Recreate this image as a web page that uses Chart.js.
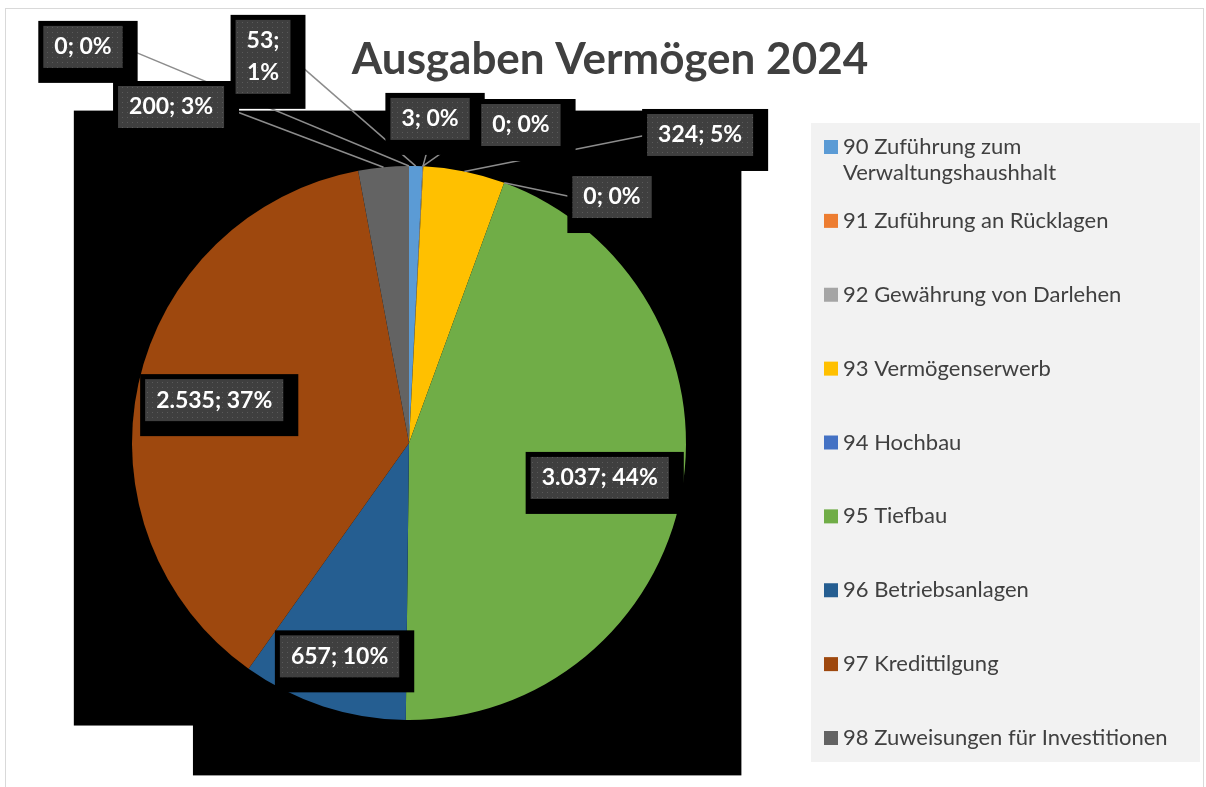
<!DOCTYPE html>
<html lang="de">
<head>
<meta charset="utf-8">
<title>Ausgaben Vermögen 2024</title>
<script src="https://cdn.jsdelivr.net/npm/chart.js@4.4.1/dist/chart.umd.min.js"></script>
<style>
  html, body { margin: 0; padding: 0; background: #fff; }
  #wrap { position: relative; width: 1206px; height: 787px; }
</style>
</head>
<body>
<div id="wrap"><canvas id="chart"></canvas></div>
<script>
// data
var categories = [
    "90 Zuführung zum Verwaltungshaushhalt",
    "91 Zuführung an Rücklagen",
    "92 Gewährung von Darlehen",
    "93 Vermögenserwerb",
    "94 Hochbau",
    "95 Tiefbau",
    "96 Betriebsanlagen",
    "97 Kredittilgung",
    "98 Zuweisungen für Investitionen",
    "99"
];
var values = [53, 0, 3, 324, 0, 3037, 657, 2535, 200, 0];
var percents = [1, 0, 0, 5, 0, 44, 10, 37, 3, 0];
var colors = ["#5B9BD5", "#ED7D31", "#A5A5A5", "#FFC000", "#4472C4", "#70AD47", "#255E91", "#9E480E", "#636363", "#997300"];
var legendCount = 9; // last entry is cut off in the original legend

// label placement: number = inside, fraction of radius along the mid angle
// pair = outside, box centre relative to pie centre in radius units
var labelPlace = [[-0.527, -1.394], [0.404, -1.148], [0.076, -1.170], [1.051, -1.112], [0.733, -0.888],
    0.70, 0.81, 0.72, [-0.859, -1.213], [-1.177, -1.430]];
var labelWrap = [true, false, false, false, false, false, false, false, false, false];

var labelFont = "bold 23px Lato";
var padX = 11, padY = 5, lineH = 32;

function fmt(n) {
    return String(n).replace(/\B(?=(\d{3})+(?!\d))/g, ".");
}

// dotted fill of the label boxes
function dotPattern(ctx) {
    var c = document.createElement("canvas");
    c.width = 5; c.height = 5;
    var p = c.getContext("2d");
    p.fillStyle = "#3f3f3f";
    p.fillRect(0, 0, 5, 5);
    p.fillStyle = "#5a5a5a";
    p.fillRect(2, 2, 1, 1);
    return ctx.createPattern(c, "repeat");
}

var excelLook = {
    id: "excelLook",
    beforeDatasetsDraw: function(chart) {
        var arc = chart.getDatasetMeta(0).data[0];
        var cx = arc.x, cy = arc.y, r = arc.outerRadius;
        var ctx = chart.ctx;
        ctx.save();
        // the black plot area of the original
        ctx.fillStyle = "#000";
        ctx.fillRect(cx - 1.21 * r, cy - 1.2 * r, 2.41 * r, 2.4 * r);
        ctx.fillStyle = "#fff";
        ctx.fillRect(cx - 1.22 * r, cy + 1.02 * r, 0.44 * r, 0.2 * r);
        ctx.restore();
    },
    afterDatasetsDraw: function(chart) {
        var ctx = chart.ctx;
        var meta = chart.getDatasetMeta(0);
        var boxes = [];
        ctx.save();
        ctx.font = labelFont;
        meta.data.forEach(function(arc, i) {
            var p = arc.getProps(["x", "y", "startAngle", "endAngle", "outerRadius"]);
            var mid = (p.startAngle + p.endAngle) / 2;
            var lines = labelWrap[i] ? [fmt(values[i]) + ";", percents[i] + "%"] : [fmt(values[i]) + "; " + percents[i] + "%"];
            var tw = Math.max.apply(null, lines.map(function(s) { return ctx.measureText(s).width; }));
            var w = tw + 2 * padX, h = lines.length * lineH + 2 * padY;
            var place = labelPlace[i];
            var cx, cy, outside = typeof place !== "number";
            if (!outside) {
                cx = p.x + Math.cos(mid) * place * p.outerRadius;
                cy = p.y + Math.sin(mid) * place * p.outerRadius;
            } else {
                cx = p.x + place[0] * p.outerRadius;
                cy = p.y + place[1] * p.outerRadius;
            }
            boxes.push({
                x: cx - w / 2, y: cy - h / 2, w: w, h: h, cx: cx, cy: cy, lines: lines, outside: outside,
                px: p.x + Math.cos(mid) * p.outerRadius, py: p.y + Math.sin(mid) * p.outerRadius
            });
        });

        // leader lines
        ctx.strokeStyle = "#8c8c8c";
        ctx.lineWidth = 1.5;
        boxes.forEach(function(b) {
            if (!b.outside) return;
            var ax, ay;
            if (b.px < b.x) { ax = b.x; ay = b.cy; }
            else if (b.px > b.x + b.w) { ax = b.x + b.w; ay = b.cy; }
            else if (b.py > b.y + b.h) { ax = b.cx; ay = b.y + b.h; }
            else { ax = b.cx; ay = b.y; }
            ctx.beginPath();
            ctx.moveTo(ax, ay);
            ctx.lineTo(b.px, b.py);
            ctx.stroke();
        });

        // black shadows, then boxes, then text
        ctx.fillStyle = "#000";
        boxes.forEach(function(b) {
            ctx.fillRect(b.x - 5, b.y - 5, b.w + 20, b.h + 20);
        });
        ctx.fillStyle = dotPattern(ctx);
        boxes.forEach(function(b) {
            ctx.fillRect(b.x, b.y, b.w, b.h);
        });
        ctx.fillStyle = "#ffffff";
        ctx.textAlign = "center";
        ctx.textBaseline = "middle";
        boxes.forEach(function(b) {
            b.lines.forEach(function(s, k) {
                ctx.fillText(s, b.cx, b.y + padY + lineH * (k + 0.5));
            });
        });
        ctx.restore();
    },
    afterDraw: function(chart) {
        var ctx = chart.ctx;
        ctx.save();

        // outer frame
        ctx.strokeStyle = "#d9d9d9";
        ctx.lineWidth = 1;
        ctx.strokeRect(5.5, 8.5, 1198, 800);

        // title
        ctx.fillStyle = "#404040";
        ctx.font = "bold 44px Lato";
        ctx.textAlign = "center";
        ctx.textBaseline = "alphabetic";
        ctx.fillText("Ausgaben Vermögen 2024", 610, 74);

        // legend
        var lg = { left: 811, top: 123, right: 1200, bottom: 762 };
        ctx.fillStyle = "#f2f2f2";
        ctx.fillRect(lg.left, lg.top, lg.right - lg.left, lg.bottom - lg.top);
        var step = (lg.bottom - lg.top - 48) / (legendCount - 1);
        ctx.font = "22px Lato";
        ctx.textAlign = "left";
        ctx.textBaseline = "middle";
        for (var i = 0; i < legendCount; i++) {
            var y = lg.top + 24 + i * step;
            ctx.fillStyle = colors[i];
            ctx.fillRect(lg.left + 13, y - 7, 14, 14);
            ctx.fillStyle = "#404040";
            // simple word wrap
            var words = categories[i].split(" ");
            var line = "", rows = [];
            words.forEach(function(wd) {
                var test = line ? line + " " + wd : wd;
                if (ctx.measureText(test).width > 350 && line) { rows.push(line); line = wd; }
                else line = test;
            });
            rows.push(line);
            rows.forEach(function(s, k) {
                ctx.fillText(s, lg.left + 32, y + k * 26);
            });
        }
        ctx.restore();
    }
};

var config = {
    type: "pie",
    data: {
        labels: categories,
        datasets: [{
            data: values,
            backgroundColor: colors,
            borderWidth: 0,
            hoverOffset: 0
        }]
    },
    options: {
        responsive: true,
        maintainAspectRatio: false,
        animation: false,
        events: [],
        layout: {
            padding: { left: 132, right: 520, top: 166, bottom: 67 }
        },
        plugins: {
            legend: { display: false },
            title: { display: false },
            tooltip: { enabled: false }
        }
    },
    plugins: [excelLook]
};

new Chart(document.getElementById("chart"), config);
</script>
</body>
</html>
